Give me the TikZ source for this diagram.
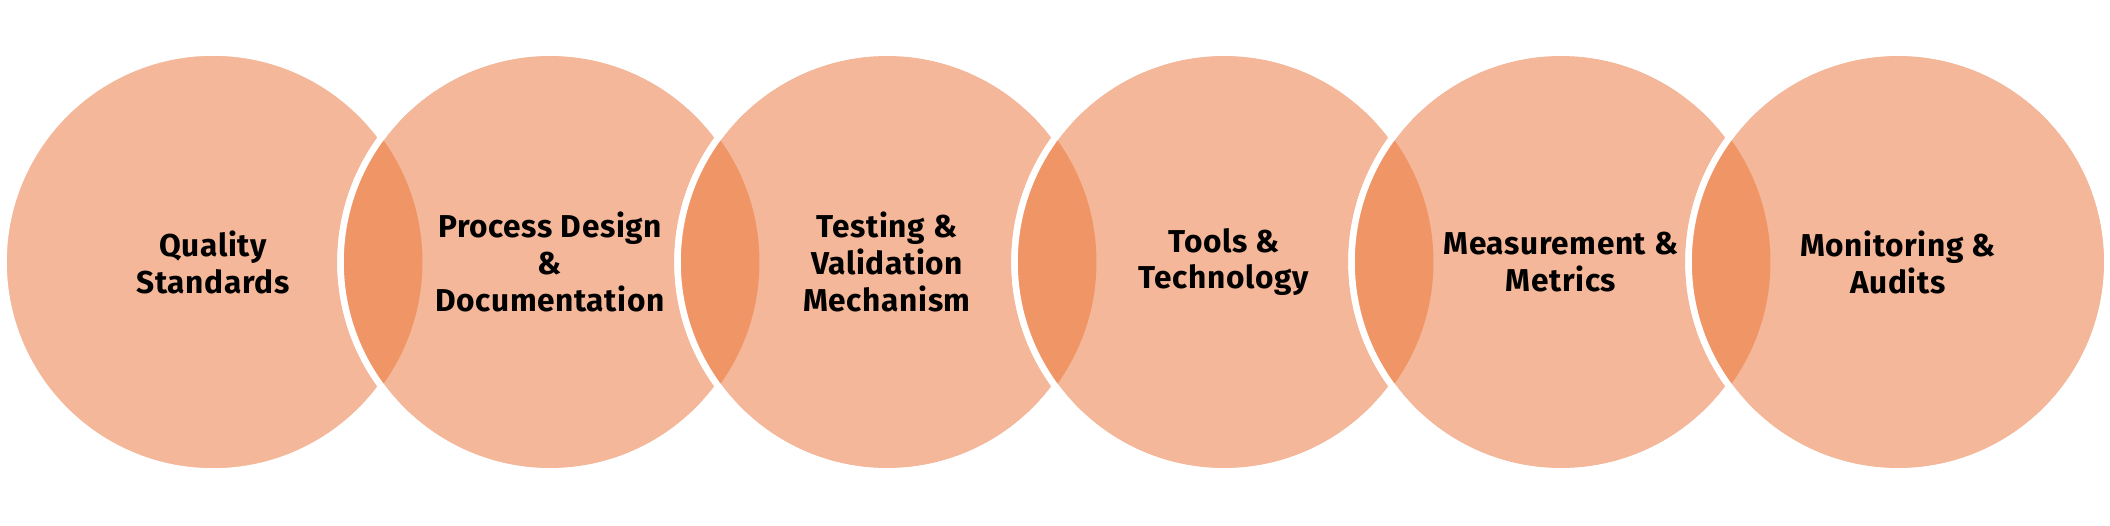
\documentclass[tikz,border=0pt]{standalone}
\usepackage{fontspec}
\setmainfont{Fira Sans}[LetterSpace=2]
\definecolor{venn}{RGB}{244,183,153}
\definecolor{venndark}{RGB}{240,149,102}

\tikzset{
  venncircle/.style={circle, minimum size=8.38cm, inner sep=0pt,
    fill=venn, draw=white, line width=0.13cm, align=center,
    font=\fontsize{18}{21}\selectfont\bfseries},
  vennrim/.style={draw=white, line width=0.13cm}
}
% darker overlap of two neighbouring circles
\newcommand{\vennlens}[2]{%
  \begin{scope}
    \clip (#1.center) circle (4.19cm);
    \fill[venndark] (#2.center) circle (4.19cm);
  \end{scope}
  \draw[vennrim] (#2.center) circle (4.19cm);
}

\begin{document}
\begin{tikzpicture}[x=0.02cm, y=0.02cm]
  \useasboundingbox (0,0) rectangle (2110,525);
  \node[venncircle] (quality) at (213,263) {Quality\\Standards};
  \node[venncircle] (process) at (550,263) {Process Design\\\&\\Documentation};
  \vennlens{quality}{process}
  \node[venncircle] (testing) at (887,263) {Testing \&\\Validation\\Mechanism};
  \vennlens{process}{testing}
  \node[venncircle] (tools) at (1224,263) {Tools \&\\Technology};
  \vennlens{testing}{tools}
  \node[venncircle] (metrics) at (1561,263) {Measurement \&\\Metrics};
  \vennlens{tools}{metrics}
  \node[venncircle] (audits) at (1898,263) {Monitoring \&\\Audits};
  \vennlens{metrics}{audits}
\end{tikzpicture}
\end{document}
